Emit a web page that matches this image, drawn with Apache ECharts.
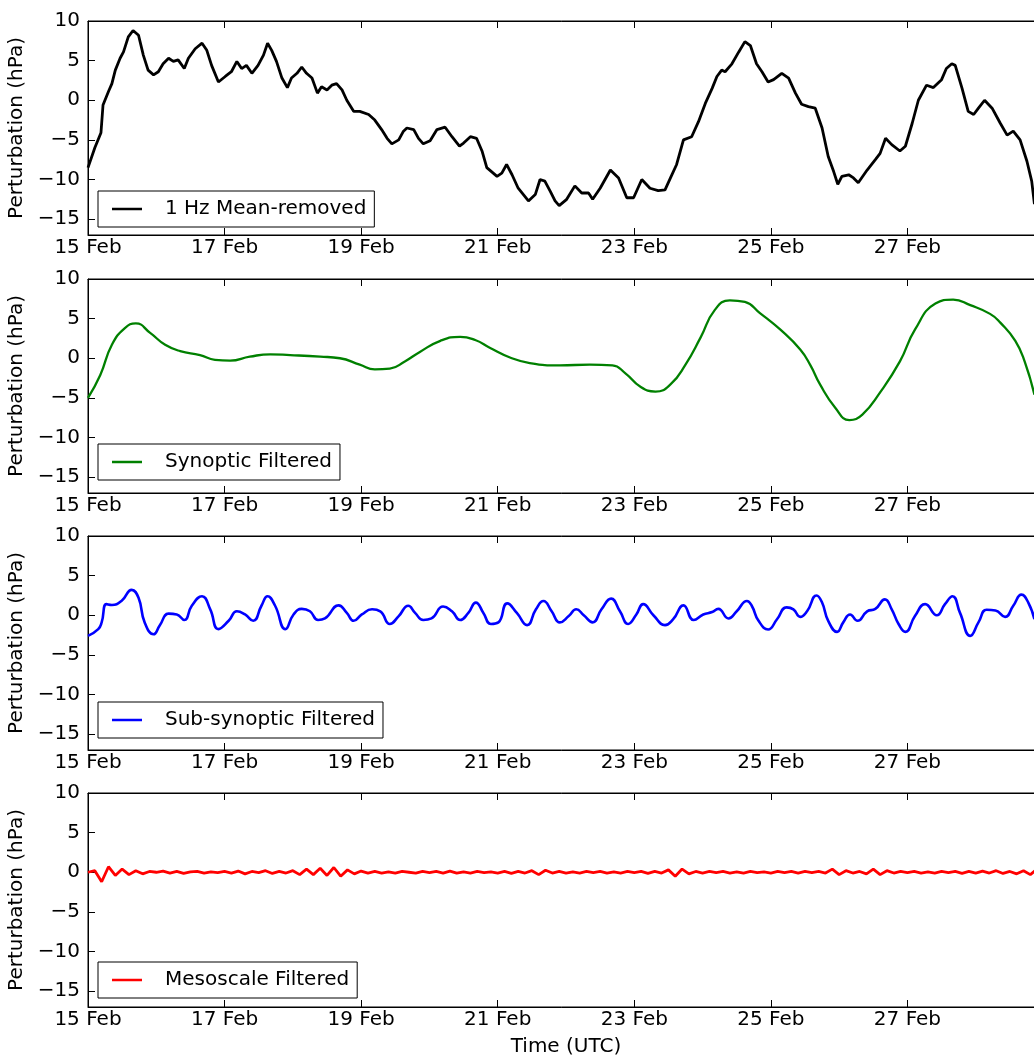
<!DOCTYPE html>
<html>
<head>
<meta charset="utf-8">
<script src="https://cdn.jsdelivr.net/npm/echarts@6/dist/echarts.min.js"></script>
<style>
  html, body { margin: 0; padding: 0; background: #ffffff; }
  #chart { width: 1034px; height: 1062px; }
</style>
</head>
<body>
<div id="chart"></div>
<script>
// Time is counted in days after 15 Feb 00 UTC.
const xTickDays = [0, 2, 4, 6, 8, 10, 12];
const xTickLabels = ['15 Feb', '17 Feb', '19 Feb', '21 Feb', '23 Feb', '25 Feb', '27 Feb'];
const yTicks = [-15, -10, -5, 0, 5, 10];

// 1 Hz pressure, mean removed (hPa)
const meanDays = [0.00,0.10,0.19,0.22,0.30,0.35,0.40,0.47,0.52,0.59,0.66,0.74,0.81,0.88,0.96,1.03,1.10,1.18,1.25,1.32,1.41,1.47,1.57,1.67,1.74,1.81,1.91,2.01,2.10,2.18,2.25,2.32,2.40,2.49,2.57,2.63,2.69,2.76,2.84,2.92,2.98,3.06,3.13,3.20,3.28,3.36,3.42,3.50,3.57,3.64,3.72,3.79,3.89,3.98,4.11,4.20,4.30,4.38,4.45,4.55,4.62,4.67,4.77,4.84,4.91,5.01,5.11,5.23,5.33,5.44,5.50,5.60,5.69,5.77,5.84,5.99,6.06,6.13,6.21,6.30,6.45,6.55,6.62,6.69,6.77,6.84,6.90,7.01,7.13,7.23,7.33,7.39,7.50,7.65,7.77,7.89,7.99,8.11,8.23,8.35,8.45,8.53,8.62,8.72,8.84,8.94,9.04,9.14,9.21,9.28,9.33,9.43,9.53,9.62,9.70,9.79,9.87,9.96,10.04,10.16,10.26,10.36,10.45,10.55,10.65,10.75,10.84,10.92,10.98,11.04,11.14,11.21,11.28,11.41,11.53,11.60,11.68,11.77,11.89,11.97,12.07,12.16,12.28,12.38,12.50,12.57,12.65,12.70,12.80,12.89,12.97,13.04,13.13,13.24,13.36,13.46,13.55,13.65,13.75,13.82,13.86];
const meanVals = [-8.5,-6.0,-4.1,-0.6,1.1,2.1,3.8,5.3,6.1,8.0,8.8,8.2,5.7,3.8,3.2,3.6,4.6,5.3,4.9,5.1,4.0,5.3,6.5,7.2,6.3,4.4,2.3,3.0,3.6,4.9,4.0,4.4,3.4,4.4,5.7,7.2,6.3,4.9,2.8,1.6,2.8,3.4,4.2,3.4,2.8,0.9,1.7,1.3,1.9,2.1,1.3,0.0,-1.4,-1.4,-1.8,-2.5,-3.7,-4.8,-5.5,-5.0,-3.9,-3.5,-3.7,-4.8,-5.5,-5.1,-3.7,-3.4,-4.6,-5.8,-5.4,-4.6,-4.8,-6.4,-8.5,-9.6,-9.2,-8.1,-9.4,-11.1,-12.7,-11.9,-10.0,-10.2,-11.5,-12.7,-13.3,-12.5,-10.8,-11.7,-11.7,-12.5,-11.1,-8.8,-9.8,-12.3,-12.3,-10.0,-11.1,-11.4,-11.3,-9.8,-8.1,-5.0,-4.6,-2.7,-0.4,1.5,3.0,3.8,3.6,4.6,6.1,7.4,6.9,4.6,3.6,2.3,2.6,3.4,2.8,0.9,-0.5,-0.8,-1.0,-3.5,-7.1,-9.0,-10.6,-9.6,-9.4,-9.8,-10.4,-8.8,-7.5,-6.7,-4.8,-5.6,-6.4,-5.8,-2.9,0.0,1.9,1.6,2.6,4.0,4.6,4.4,1.5,-1.4,-1.8,-1.0,0.0,-1.0,-2.9,-4.4,-3.9,-5.0,-7.7,-10.2,-13.1];

// Synoptic band (hPa)
const synDays = [0.00,0.18,0.35,0.54,0.70,0.91,1.13,1.35,1.64,1.86,2.08,2.37,2.67,2.96,3.40,3.69,3.98,4.20,4.42,4.64,4.86,5.16,5.45,5.67,5.89,6.18,6.47,6.91,7.35,7.68,7.87,8.09,8.31,8.53,8.75,8.97,9.18,9.40,9.62,9.84,10.14,10.43,10.58,10.72,10.94,11.15,11.34,11.60,11.89,12.11,12.41,12.67,12.92,13.21,13.36,13.58,13.72,13.86];
const synVals = [-5.0,-2.1,1.7,3.8,4.4,3.2,1.7,0.9,0.4,-0.2,-0.3,0.2,0.5,0.4,0.2,0.0,-0.8,-1.4,-1.3,-0.4,0.8,2.2,2.7,2.3,1.3,0.1,-0.6,-0.9,-0.8,-0.9,-1.9,-3.6,-4.2,-3.3,-0.8,2.6,6.1,7.3,7.1,5.7,3.6,1.1,-0.9,-3.3,-6.2,-7.8,-7.1,-4.3,-0.4,3.6,6.9,7.4,6.7,5.6,4.5,2.2,-0.5,-4.6];

// Sub-synoptic band (hPa)
const subDays = [0.00,0.15,0.20,0.27,0.35,0.49,0.64,0.74,0.83,0.96,1.05,1.18,1.30,1.41,1.52,1.67,1.79,1.91,2.06,2.18,2.30,2.42,2.54,2.63,2.74,2.89,3.01,3.13,3.25,3.37,3.47,3.67,3.79,3.89,4.01,4.16,4.28,4.42,4.55,4.69,4.79,4.91,5.03,5.20,5.33,5.45,5.57,5.68,5.79,5.90,6.01,6.14,6.28,6.43,6.56,6.67,6.79,6.91,7.04,7.15,7.26,7.39,7.52,7.66,7.79,7.91,8.03,8.13,8.28,8.45,8.57,8.72,8.87,9.01,9.14,9.23,9.38,9.50,9.65,9.72,9.82,9.96,10.09,10.23,10.33,10.43,10.53,10.67,10.75,10.84,10.97,11.06,11.16,11.27,11.41,11.53,11.67,11.77,11.87,11.97,12.11,12.26,12.43,12.55,12.66,12.77,12.92,13.04,13.16,13.29,13.43,13.55,13.67,13.77,13.86];
const subVals = [-2.6,-1.75,-0.9,1.4,1.3,1.8,3.2,2.2,-0.9,-2.4,-1.3,0.2,0.1,-0.6,1.2,2.4,0.75,-1.75,-0.7,0.5,0.1,-0.7,1.2,2.4,1.2,-1.75,0.1,0.8,0.5,-0.6,-0.4,1.25,0.3,-0.7,0.1,0.75,0.5,-1.1,-0.1,1.2,0.3,-0.6,-0.4,1.1,0.5,-0.6,0.3,1.6,0.3,-1.1,-0.9,1.5,0.3,-1.25,0.75,1.8,0.5,-0.9,-0.1,0.75,0.0,-0.9,0.75,2.1,0.5,-1.1,0.1,1.4,0.0,-1.25,-0.5,1.25,-0.6,0.1,0.4,0.8,-0.4,0.5,1.8,1.2,-0.7,-1.8,-0.5,1.0,0.75,-0.2,0.5,2.5,1.6,-0.7,-2.1,-0.9,0.1,-0.7,0.5,0.8,2.0,0.75,-1.1,-2.1,-0.1,1.4,0.0,1.4,2.4,0.3,-2.6,-0.9,0.7,0.6,-0.2,1.2,2.6,1.6,-0.5];

// Mesoscale band (hPa), one value every 0.1 day
const mesoVals = [0.0,0.2,-1.2,0.7,-0.4,0.4,-0.3,0.2,-0.2,0.1,
  0.0,0.15,-0.1,0.1,-0.15,0.05,0.1,-0.1,0.05,-0.05,
  0.1,-0.1,0.15,-0.2,0.1,-0.05,0.2,-0.15,0.1,-0.1,
  0.2,-0.3,0.4,-0.3,0.5,-0.4,0.6,-0.5,0.3,-0.2,
  0.15,-0.1,0.1,-0.1,0.05,-0.1,0.1,0.0,-0.1,0.1,
  -0.05,0.1,-0.1,0.15,-0.1,0.05,-0.1,0.1,-0.05,0.05,
  -0.1,0.1,-0.15,0.1,-0.1,0.2,-0.3,0.25,-0.1,0.1,
  -0.1,0.05,-0.1,0.1,-0.05,0.1,-0.1,0.05,-0.1,0.1,
  -0.05,0.1,-0.15,0.1,-0.1,0.3,-0.5,0.4,-0.2,0.1,
  -0.1,0.1,-0.05,0.1,-0.1,0.05,-0.1,0.1,-0.05,0.05,
  -0.1,0.1,-0.05,0.1,-0.1,0.1,-0.05,0.1,-0.1,0.4,
  -0.3,0.2,-0.1,0.1,-0.2,0.4,-0.3,0.2,-0.1,0.1,
  -0.05,0.1,-0.1,0.05,-0.1,0.1,-0.05,0.1,-0.15,0.1,
  -0.1,0.15,-0.1,0.2,-0.15,0.1,-0.2,0.2,-0.3,0.4];
const mesoDays = mesoVals.map((_, i) => i * 0.1);

const FONT = 'DejaVu Sans';
const zip = (d, v) => d.map((t, i) => [t, v[i]]);

const panels = [
  { name: '1 Hz Mean-removed', data: zip(meanDays, meanVals), color: '#000000', width: 2.8, smooth: false, top: 21, legendTop: 191 },
  { name: 'Synoptic Filtered', data: zip(synDays, synVals), color: '#008000', width: 2.3, smooth: 0.5, top: 279, legendTop: 444 },
  { name: 'Sub-synoptic Filtered', data: zip(subDays, subVals), color: '#0000ff', width: 2.6, smooth: 0.5, top: 536, legendTop: 702 },
  { name: 'Mesoscale Filtered', data: zip(mesoDays, mesoVals), color: '#ff0000', width: 2.8, smooth: false, top: 793, legendTop: 962 }
];

const fmtY = v => (v < 0 ? '\u2212' + Math.abs(v) : String(v));
const fmtX = v => {
  const i = xTickDays.indexOf(Math.round(v));
  return i >= 0 ? xTickLabels[i] : '';
};

const grid = [], xAxis = [], yAxis = [], series = [], legend = [];
panels.forEach((p, k) => {
  grid.push({ left: 88, right: -10, top: p.top, height: 214, show: true,
    borderColor: '#000', borderWidth: 1, outerBoundsMode: 'none', containLabel: false });
  // bottom axis with labels
  xAxis.push({ type: 'value', gridIndex: k, min: 0, max: 14, position: 'bottom',
    axisLine: { show: true, onZero: false, lineStyle: { color: '#000', width: 1 } },
    axisTick: { show: true, inside: true, length: 7, customValues: xTickDays, lineStyle: { color: '#000' } },
    axisLabel: { show: true, customValues: xTickDays, formatter: fmtX, margin: 3,
      color: '#000', fontFamily: FONT, fontSize: 20 },
    splitLine: { show: false },
    name: k === 3 ? 'Time (UTC)' : '', nameLocation: 'middle', nameGap: 30,
    nameTextStyle: { color: '#000', fontFamily: FONT, fontSize: 20 } });
  // top axis carrying the upper tick marks
  xAxis.push({ type: 'value', gridIndex: k, min: 0, max: 14, position: 'top',
    axisLine: { show: true, onZero: false, lineStyle: { color: '#000', width: 1 } },
    axisTick: { show: true, inside: true, length: 7, customValues: xTickDays, lineStyle: { color: '#000' } },
    axisLabel: { show: false }, splitLine: { show: false } });
  yAxis.push({ type: 'value', gridIndex: k, min: -17, max: 10, position: 'left',
    axisLine: { show: true, onZero: false, lineStyle: { color: '#000', width: 1 } },
    axisTick: { show: true, inside: true, length: 7, customValues: yTicks, lineStyle: { color: '#000' } },
    axisLabel: { show: true, customValues: yTicks, formatter: fmtY, margin: 8,
      color: '#000', fontFamily: FONT, fontSize: 20 },
    splitLine: { show: false },
    name: 'Perturbation (hPa)', nameLocation: 'middle', nameGap: 51, nameRotate: 90,
    nameTextStyle: { color: '#000', fontFamily: FONT, fontSize: 20 } });
  series.push({ type: 'line', name: p.name, xAxisIndex: 2 * k, yAxisIndex: k,
    data: p.data, symbol: 'none', smooth: p.smooth, clip: true, animation: false,
    lineStyle: { color: p.color, width: p.width }, itemStyle: { color: p.color } });
  legend.push({ data: [p.name], left: 98, top: p.legendTop, orient: 'horizontal',
    backgroundColor: '#fff', borderColor: '#000', borderWidth: 1, borderRadius: 0,
    padding: [8, 8, 8, 14], icon: 'rect', itemWidth: 30, itemHeight: 2.5, selectedMode: false,
    itemStyle: { color: p.color },
    textStyle: { color: '#000', fontFamily: FONT, fontSize: 20, lineHeight: 20, padding: [0, 0, 0, 18] } });
});

const chart = echarts.init(document.getElementById('chart'), null, { renderer: 'canvas' });
chart.setOption({ animation: false, backgroundColor: '#fff', grid, xAxis, yAxis, series, legend });
</script>
</body>
</html>
